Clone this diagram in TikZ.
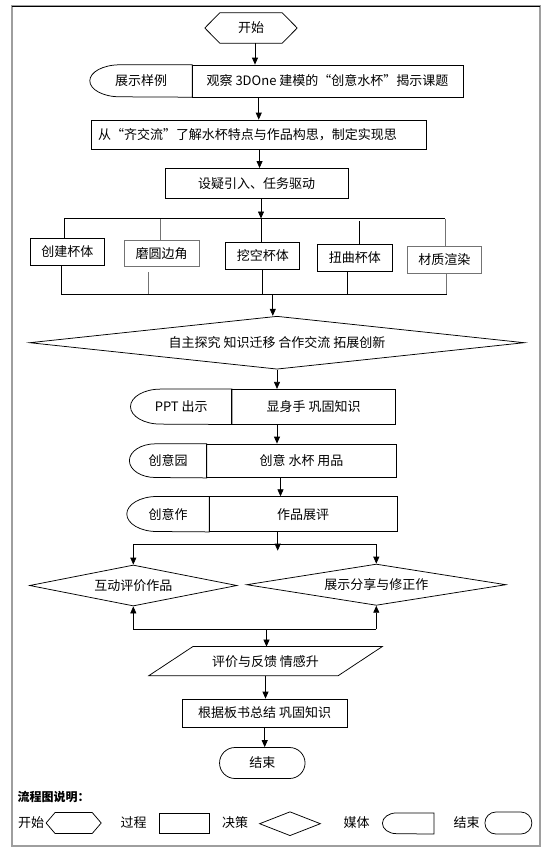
\documentclass[tikz,border=0pt]{standalone}
\usepackage{fontspec}
\setmainfont{Noto Sans CJK SC}
\usetikzlibrary{arrows.meta,shapes.geometric,shapes.misc,calc}

\definecolor{softgray}{gray}{0.45}
\definecolor{framegray}{gray}{0.62}

\newcommand\HexLine[2]{%
  \draw[link] ([xshift=#2]#1.north west) -- ([xshift=-#2]#1.north east) -- (#1.east)
     -- ([xshift=-#2]#1.south east) -- ([xshift=#2]#1.south west) -- (#1.west) -- cycle;}
\newcommand\MediaLine[3]{%
  \draw[link] (#1.north east) -- ([xshift=#2]#1.north west)
     arc[start angle=90,end angle=270,x radius=#2,y radius=#3] -- (#1.south east) -- cycle;}
\newcommand\SlantLine[2]{%
  \draw[link] ([xshift=#2]#1.north west) -- (#1.north east) -- ([xshift=-#2]#1.south east)
     -- (#1.south west) -- cycle;}
\newcommand\QL{{\addfontfeature{RawFeature=+fwid}“}}
\newcommand\QR{{\addfontfeature{RawFeature=+fwid}”}}

\tikzset{
  box/.style={
    shape = rectangle,
    draw,
    line width = 0.75pt,
    inner sep = 0pt
  },
  holder/.style={
    shape = rectangle,
    inner sep = 0pt
  },
  decide/.style={
    shape = diamond,
    draw,
    line width = 0.75pt,
    inner sep = 0pt
  },
  term/.style={
    shape = rounded rectangle,
    draw,
    line width = 0.75pt,
    inner sep = 0pt
  },
  link/.style={
    line width = 0.75pt
  },
  arr/.style={
    line width = 0.75pt,
    -{Triangle[length=7pt,width=6pt]}
  },
  legend/.style={
    inner sep = 0pt,
    font = \fontsize{13pt}{15pt}\selectfont
  }
}

\begin{document}
\begin{tikzpicture}[x=1pt,y=-1pt,every node/.style={font=\fontsize{13pt}{15pt}\selectfont}]
\useasboundingbox (0,0) rectangle (544,855);

% frame
\draw[framegray, line width=1.2pt] (12,6) rectangle (540,846);
\draw[line width=1pt] (12,6) -- (540,6);

% top part
\node[holder, minimum width=92pt, minimum height=30pt] (start) at (251,28) {开始};
\HexLine{start}{15pt}

\node[holder, minimum width=102pt, minimum height=32pt] (showM) at (141,81) {展示样例};
\MediaLine{showM}{30pt}{16pt}
\node[box, minimum width=271pt, minimum height=32pt] (showP) at (327.5,81)
  {观察 3DOne 建模的\QL 创意水杯\QR 揭示课题};

\node[box, minimum width=334.5pt, minimum height=29pt, inner xsep=6.5pt,
  text width=321.5pt, align=left] (talk) at (258.75,134.5)
  {从\QL 齐交流\QR 了解水杯特点与作品构思，制定实现思};

\node[box, minimum width=183pt, minimum height=30pt] (task) at (256.5,183.4) {设疑引入、任务驱动};

% five tasks
\node[box, minimum width=73.3pt, minimum height=27.4pt] (c1) at (67.35,252) {创建杯体};
\node[box, draw=softgray, minimum width=75pt, minimum height=26.7pt] (c2) at (161.5,253.35) {磨圆边角};
\node[box, minimum width=73.9pt, minimum height=27pt] (c3) at (262.75,255.8) {挖空杯体};
\node[box, minimum width=74.2pt, minimum height=27.4pt] (c4) at (354.9,258) {扭曲杯体};
\node[box, draw=softgray, minimum width=74.5pt, minimum height=26.6pt] (c5) at (444.25,260) {材质渲染};

\node[decide, minimum width=494.8pt, minimum height=53pt, shape aspect=9.3] (explore) at (277,342.7)
  {自主探究 知识迁移 合作交流 拓展创新};

% media rows
\node[holder, minimum width=101pt, minimum height=35pt] (pptM) at (181.2,406.8) {PPT 出示};
\MediaLine{pptM}{30pt}{17.5pt}
\node[box, minimum width=163.8pt, minimum height=35pt] (pptP) at (313.6,406.8) {显身手 巩固知识};

\node[holder, minimum width=77pt, minimum height=33.7pt] (ideaM) at (168.1,460.85) {创意园};
\MediaLine{ideaM}{26pt}{16.85pt}
\node[box, minimum width=189.9pt, minimum height=33.7pt] (ideaP) at (301.55,460.85) {创意 水杯 用品};

\node[holder, minimum width=82pt, minimum height=35pt] (workM) at (168,514.2) {创意作};
\MediaLine{workM}{30pt}{17.5pt}
\node[box, minimum width=188pt, minimum height=35pt] (workP) at (303,514.2) {作品展评};

% evaluation
\node[decide, minimum width=207.4pt, minimum height=41pt, shape aspect=5] (evalA) at (133.3,585.5) {互动评价作品};
\node[decide, minimum width=259.3pt, minimum height=41.3pt, shape aspect=6.2] (evalB) at (376.3,584.7) {展示分享与修正作};

\node[holder, minimum width=233pt, minimum height=28.7pt] (feed) at (265.5,661.15) {评价与反馈 情感升};
\SlantLine{feed}{44pt}
\node[box, minimum width=164.6pt, minimum height=28pt] (sum) at (264.7,713) {根据板书总结 巩固知识};
\node[term, minimum width=85.5pt, minimum height=31pt] (stop) at (262.3,763) {结束};

% connectors
\coordinate (fork) at (261,218.5);
\coordinate (join) at (272.8,294);
\coordinate (split) at (277.7,544);
\coordinate (merge) at (266.5,629.3);

\draw[arr] ($(start.south)+(4,0)$) -- ($(start.south |- showP.north)+(4,0)$);
\draw[arr] (talk.north |- showP.south) -- (talk.north);
\draw[arr] ($(talk.south)+(0.8,0)$) -- ($(talk.south |- task.north)+(0.8,0)$);
\draw[arr] (task.south -| fork) -- (fork);

\draw[link] ($(c1.north |- fork)+(-3.35,0)$) -- ($(c5.north |- fork)+(0.75,0)$);
\foreach \n/\dx/\col in {c1/-3.35/black, c2/-1.5/softgray, c3/-1.75/black, c5/0.75/softgray}
  \draw[link, \col] ($(\n.north)+(\dx,0)$) -- ($(\n.north |- fork)+(\dx,0)$);
\draw[link, shorten >=2.2pt] ($(c4.north)+(4.1,0)$) -- ($(c4.north |- fork)+(4.1,0)$);

\foreach \n/\dx/\col in {c1/-6.35/black, c3/-0.75/black, c4/-7.2/black, c5/2.45/softgray}
  \draw[link, \col] ($(\n.south)+(\dx,0)$) -- ($(\n.south |- join)+(\dx,0)$);
\draw[link, softgray, shorten <=5pt] ($(c2.south)+(-13.5,0)$) -- ($(c2.south |- join)+(-13.5,0)$);
\draw[link] ($(c1.south |- join)+(-6.35,0)$) -- ($(c5.south |- join)+(2.45,0)$);
\draw[arr] (join) -- (join |- explore.north);

\draw[arr] (explore.south) -- (explore.south |- pptP.north);
\draw[arr] (pptP.south -| explore.south) -- (ideaP.north -| explore.south);
\draw[arr] ($(ideaP.south -| explore.south)+(3.5,0)$) -- ($(workP.north -| explore.south)+(3.5,0)$);
\draw[arr] (workP.south -| split) -- ($(split)+(0,6.7)$);

\draw[link] (evalA.north |- split) -- (evalB.north |- split);
\draw[arr] (evalA.north |- split) -- (evalA.north);
\draw[arr] (evalB.north |- split) -- (evalB.north);

\draw[link] (evalA.south |- merge) -- (evalB.south |- merge);
\draw[arr] (evalA.south |- merge) -- (evalA.south);
\draw[arr] (evalB.south |- merge) -- (evalB.south);
\draw[arr] (merge) -- (merge |- feed.north);

\draw[arr] (feed.south) -- (feed.south |- sum.north);
\draw[arr] (sum.south) -- (sum.south |- stop.north);

% legend
\node[legend, anchor=west, font=\fontsize{12pt}{14pt}\selectfont\bfseries] (lgTitle) at (17.4,796.7) {流程图说明：};

\node[legend] (lgStartTxt) at (31,823) {开始};
\node[holder, minimum width=54.7pt, minimum height=20.6pt] (lgStart) at (73.65,823) {};
\HexLine{lgStart}{9pt}

\node[legend] (lgProcTxt) at (133.5,823) {过程};
\node[box, minimum width=50pt, minimum height=20pt] (lgProc) at (184,823.3) {};

\node[legend] (lgDecTxt) at (235,823) {决策};
\node[decide, minimum width=61pt, minimum height=24pt, shape aspect=2.5] (lgDec) at (290,823.7) {};

\node[legend] (lgMediaTxt) at (356.5,823) {媒体};
\node[holder, minimum width=51.2pt, minimum height=20.7pt] (lgMedia) at (408.2,823.5) {};
\MediaLine{lgMedia}{14pt}{10.35pt}

\node[legend] (lgEndTxt) at (466.5,823) {结束};
\node[term, minimum width=47pt, minimum height=22pt] (lgEnd) at (508.4,823) {};

\end{tikzpicture}
\end{document}
